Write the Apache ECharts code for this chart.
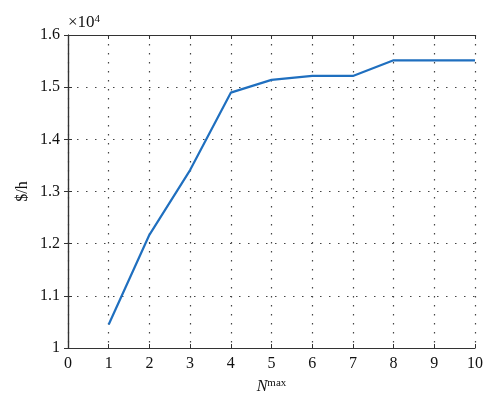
<!DOCTYPE html>
<html><head><meta charset="utf-8">
<script src="https://cdn.jsdelivr.net/npm/echarts@6/dist/echarts.min.js"></script>
<style>html,body{margin:0;padding:0;background:#fff}#c{width:500px;height:409px}</style>
</head><body><div id="c"></div>
<script>
var xValues = [1, 2, 3, 4, 5, 6, 7, 8, 9, 10];
var costValues = [1.045, 1.217, 1.341, 1.4895, 1.514, 1.5215, 1.5215, 1.5515, 1.5515, 1.5515];
var yTicks = [1, 1.1, 1.2, 1.3, 1.4, 1.5, 1.6];

var font = 'Liberation Serif';
var chart = echarts.init(document.getElementById('c'));
var axisLineStyle = {color: '#333', width: 1.2};
var gridLine = {color: '#444', type: [1.5, 7.5], width: 1.2};
chart.setOption({
  animation: false,
  grid: {left: 68, right: 25, top: 35, bottom: 61},
  xAxis: [{
    type: 'value', min: 0, max: 10, interval: 1,
    axisLine: {show: true, lineStyle: axisLineStyle},
    axisTick: {show: true, inside: true, length: 4, lineStyle: {color: '#333'}},
    axisLabel: {color: '#111', fontFamily: font, fontSize: 16, margin: 8},
    splitLine: {show: true, lineStyle: gridLine},
    name: '{n|N}{s|max}', nameLocation: 'middle', nameGap: 30,
    nameTextStyle: {rich: {
      n: {fontFamily: font, fontStyle: 'italic', fontSize: 16, color: '#111'},
      s: {fontFamily: font, fontSize: 11, color: '#111', verticalAlign: 'top', padding: [0, 0, 6, 0]}
    }}
  }, {
    type: 'value', min: 0, max: 10, interval: 1, position: 'top',
    axisLine: {show: true, lineStyle: axisLineStyle},
    axisTick: {show: true, inside: true, length: 4, lineStyle: {color: '#333'}},
    axisLabel: {show: false}, splitLine: {show: false}
  }],
  yAxis: [{
    type: 'value', min: 1, max: 1.6, interval: 0.1,
    axisLine: {show: true, lineStyle: axisLineStyle},
    axisTick: {show: true, inside: true, length: 4, lineStyle: {color: '#333'}},
    axisLabel: {color: '#111', fontFamily: font, fontSize: 16, margin: 8,
      formatter: function (v) { return String(Math.round(v * 10) / 10); }},
    splitLine: {show: true, lineStyle: gridLine},
    name: '$/h', nameLocation: 'middle', nameGap: 37, nameRotate: 90, nameMoveOverlap: false,
    nameTextStyle: {fontFamily: font, fontSize: 16, color: '#111'}
  }, {
    type: 'value', min: 1, max: 1.6, interval: 0.1, position: 'right',
    axisLine: {show: true, lineStyle: axisLineStyle},
    axisTick: {show: true, inside: true, length: 4, lineStyle: {color: '#333'}},
    axisLabel: {show: false}, splitLine: {show: false}
  }],
  graphic: [{
    type: 'text', left: 68, top: 14,
    style: {text: '×10{s|4}', fontFamily: font, fontSize: 17, fill: '#111',
      rich: {s: {fontFamily: font, fontSize: 11, fill: '#111', verticalAlign: 'top', padding: [0, 0, 7, 0]}}}
  }],
  series: [{
    type: 'line', xAxisIndex: 0, yAxisIndex: 0,
    data: xValues.map(function (x, i) { return [x, costValues[i]]; }),
    showSymbol: false, lineStyle: {color: '#1f6fbf', width: 2.2}
  }]
});
</script></body></html>
